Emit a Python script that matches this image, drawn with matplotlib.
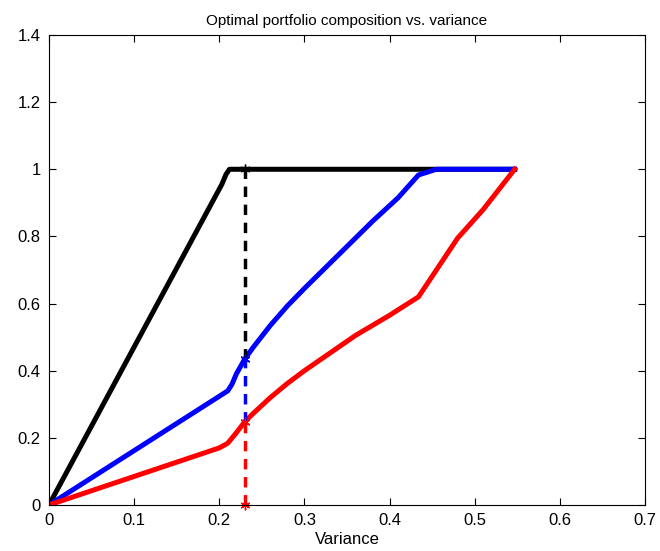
import numpy as np
import matplotlib
matplotlib.use("Agg")
import matplotlib.pyplot as plt

plt.rcParams['font.family'] = ['Liberation Sans', 'DejaVu Sans']

# -- Data
x_black = [0, 0.203, 0.208, 0.212, 0.547]
y_black = [0, 0.955, 0.985, 1.0, 1.0]

x_blue = [0, 0.21, 0.215, 0.22, 0.23, 0.24, 0.26, 0.28, 0.30, 0.32, 0.35, 0.38, 0.41, 0.434, 0.455, 0.547]
y_blue = [0, 0.34, 0.36, 0.39, 0.435, 0.47, 0.535, 0.593, 0.645, 0.695, 0.77, 0.845, 0.915, 0.983, 1.0, 1.0]

x_red = [0, 0.2, 0.21, 0.22, 0.23, 0.24, 0.26, 0.28, 0.30, 0.32, 0.36, 0.40, 0.434, 0.48, 0.51, 0.547]
y_red = [0, 0.17, 0.184, 0.215, 0.248, 0.273, 0.32, 0.362, 0.4, 0.435, 0.505, 0.565, 0.62, 0.795, 0.88, 1.0]

x_sel = 0.23
w_red = 0.248
w_blue = 0.435
w_top = 1.0

# -- Plot
fig = plt.figure(figsize=(6.6, 5.51), dpi=100)
ax = fig.add_axes([0.0742, 0.0835, 0.9030, 0.853])

ax.plot(x_black, y_black, color='k', lw=3.6)
ax.plot(x_blue, y_blue, color='b', lw=3.6)
ax.plot(x_red, y_red, color='r', lw=3.6)

star = (6, 2, 0)  # asterisk, like matlab '*'
kw = dict(lw=2.5, dashes=(3, 2.2), marker=star, ms=7, mew=1, clip_on=False)
ax.plot([x_sel, x_sel], [w_blue, w_top], '--', color='k', **kw)
ax.plot([x_sel, x_sel], [w_red, w_blue], '--', color='b', **kw)
ax.plot([x_sel, x_sel], [0, w_red], '--', color='r', **kw)

ax.set_xlim(0, 0.7)
ax.set_ylim(0, 1.4)
ax.set_xticks(np.arange(0, 0.71, 0.1))
ax.set_yticks(np.arange(0, 1.41, 0.2))
ax.set_xticklabels(['0', '0.1', '0.2', '0.3', '0.4', '0.5', '0.6', '0.7'])
ax.set_yticklabels(['0', '0.2', '0.4', '0.6', '0.8', '1', '1.2', '1.4'])
ax.tick_params(direction='in', top=True, right=True, length=5, labelsize=12, width=0.8, pad=6)
for s in ax.spines.values():
    s.set_linewidth(0.8)

ax.set_title('Optimal portfolio composition vs. variance', fontsize=11, pad=7)
ax.set_xlabel('Variance', fontsize=12, labelpad=3)

fig.savefig('out.png', dpi=100)
